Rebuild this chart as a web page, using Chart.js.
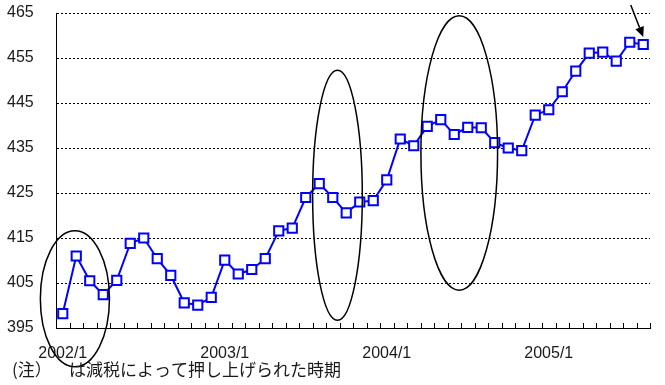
<!DOCTYPE html>
<html>
<head>
<meta charset="utf-8">
<script src="https://cdn.jsdelivr.net/npm/chart.js@4/dist/chart.umd.min.js"></script>
<style>
  html, body { margin: 0; padding: 0; background: #fff; }
  #wrap { width: 665px; height: 385px; position: relative; }
</style>
</head>
<body>
<div id="wrap"><canvas id="c" width="665" height="385"></canvas></div>
<script>
// Monthly series, 2002/1 – 2005/8
const months = [
  '2002/1','2002/2','2002/3','2002/4','2002/5','2002/6','2002/7','2002/8','2002/9','2002/10','2002/11','2002/12',
  '2003/1','2003/2','2003/3','2003/4','2003/5','2003/6','2003/7','2003/8','2003/9','2003/10','2003/11','2003/12',
  '2004/1','2004/2','2004/3','2004/4','2004/5','2004/6','2004/7','2004/8','2004/9','2004/10','2004/11','2004/12',
  '2005/1','2005/2','2005/3','2005/4','2005/5','2005/6','2005/7','2005/8'
];
const values = [
  398.2, 411.0, 405.5, 402.4, 405.6, 413.8, 415.0, 410.4, 406.7, 400.6, 400.1, 401.8,
  410.1, 407.0, 408.0, 410.4, 416.6, 417.2, 424.0, 427.1, 424.0, 420.6, 423.0, 423.3,
  427.9, 437.0, 435.5, 439.8, 441.3, 438.0, 439.6, 439.5, 436.2, 435.0, 434.4, 442.3,
  443.5, 447.5, 452.1, 456.1, 456.3, 454.3, 458.5, 458.0
];
const yearLabels = ['2002/1', '2003/1', '2004/1', '2005/1'];
const yMin = 395, yMax = 465, yStep = 10;

// Periods pushed up by tax cuts: centre (category index, value) and half-extents
const taxCutPeriods = [
  { cx: 0.9,   cy: 401.5, rx: 2.56, ry: 15.1 },
  { cx: 20.35, cy: 424.5, rx: 1.84, ry: 27.8 },
  { cx: 29.37, cy: 433.9, rx: 2.84, ry: 30.5 }
];
const notePrefix = '(注）';
const noteBody = 'は減税によって押し上げられた時期';

const LATIN = "'Liberation Sans', Arial, sans-serif";
const CJK = "'Noto Sans CJK JP', sans-serif";

// Small inward tick marks between months on the x axis
const monthTicks = {
  id: 'monthTicks',
  afterDatasetsDraw(chart) {
    const { ctx, scales: { x }, chartArea } = chart;
    ctx.save();
    ctx.strokeStyle = '#000';
    ctx.lineWidth = 1;
    ctx.beginPath();
    for (let i = 0; i <= months.length; i++) {
      const px = Math.round(x.getPixelForValue(i - 0.5)) + 0.5;
      ctx.moveTo(px, chartArea.bottom);
      ctx.lineTo(px, chartArea.bottom - 5);
    }
    ctx.stroke();
    ctx.restore();
  }
};

// Ellipses around the tax-cut periods, arrow to the latest month, footnote
const annotations = {
  id: 'annotations',
  afterDraw(chart) {
    const { ctx, scales: { x, y } } = chart;
    ctx.save();
    ctx.strokeStyle = '#000';
    ctx.lineWidth = 1.5;
    taxCutPeriods.forEach(p => {
      const cx = x.getPixelForValue(p.cx);
      const cy = y.getPixelForValue(p.cy);
      const rx = x.getPixelForValue(p.cx + p.rx) - cx;
      const ry = cy - y.getPixelForValue(p.cy + p.ry);
      ctx.beginPath();
      ctx.ellipse(cx, cy, rx, ry, 0, 0, Math.PI * 2);
      ctx.stroke();
    });

    // arrow pointing down at the last point
    const last = values.length - 1;
    const tipX = x.getPixelForValue(last);
    const tipY = y.getPixelForValue(values[last]) - 7.5;
    const tailX = tipX - 12.5, tailY = tipY - 32;
    const ang = Math.atan2(tipY - tailY, tipX - tailX);
    const headLen = 10, headW = 4.5;
    const bx = tipX - headLen * Math.cos(ang), by = tipY - headLen * Math.sin(ang);
    ctx.lineWidth = 1.5;
    ctx.beginPath();
    ctx.moveTo(tailX, tailY);
    ctx.lineTo(bx, by);
    ctx.stroke();
    ctx.fillStyle = '#000';
    ctx.beginPath();
    ctx.moveTo(tipX, tipY);
    ctx.lineTo(bx + headW * Math.sin(ang), by - headW * Math.cos(ang));
    ctx.lineTo(bx - headW * Math.sin(ang), by + headW * Math.cos(ang));
    ctx.closePath();
    ctx.fill();

    // footnote
    ctx.fillStyle = '#1a1a1a';
    ctx.font = '17px ' + CJK;
    ctx.textBaseline = 'middle';
    ctx.textAlign = 'left';
    ctx.fillText(notePrefix, 12, 370);
    ctx.fillText(noteBody, 69, 370);
    ctx.restore();
  }
};

new Chart(document.getElementById('c'), {
  type: 'line',
  data: {
    labels: months,
    datasets: [{
      data: values,
      borderColor: 'rgb(0,0,255)',
      borderWidth: 2,
      tension: 0,
      pointStyle: 'rect',
      pointRadius: 6.5,
      pointHoverRadius: 6.5,
      pointBorderWidth: 2,
      pointBackgroundColor: '#fff',
      pointBorderColor: 'rgb(0,0,255)'
    }]
  },
  options: {
    responsive: false,
    animation: false,
    events: [],
    layout: { padding: { top: 13, right: 15, bottom: 0, left: 7 } },
    plugins: { legend: { display: false }, tooltip: { enabled: false } },
    scales: {
      x: {
        type: 'category',
        offset: true,
        grid: { display: false },
        border: { display: true, color: '#000', width: 1 },
        ticks: {
          autoSkip: false,
          maxRotation: 0,
          minRotation: 0,
          padding: 8,
          color: '#1a1a1a',
          font: { family: LATIN, size: 16 },
          callback(value) {
            const lbl = this.getLabelForValue(value);
            return yearLabels.includes(lbl) ? lbl : '';
          }
        },
        afterFit(scale) { scale.height = 57; }
      },
      y: {
        min: yMin,
        max: yMax,
        grid: { color: '#000', lineWidth: 1, drawTicks: false },
        border: { display: true, color: '#000', width: 1, dash: [2, 2] },
        ticks: {
          stepSize: yStep,
          padding: 0,
          crossAlign: 'far',
          color: '#1a1a1a',
          font: { family: LATIN, size: 16 }
        },
        afterFit(scale) { scale.width = 49; }
      }
    }
  },
  plugins: [monthTicks, annotations]
});
</script>
</body>
</html>
